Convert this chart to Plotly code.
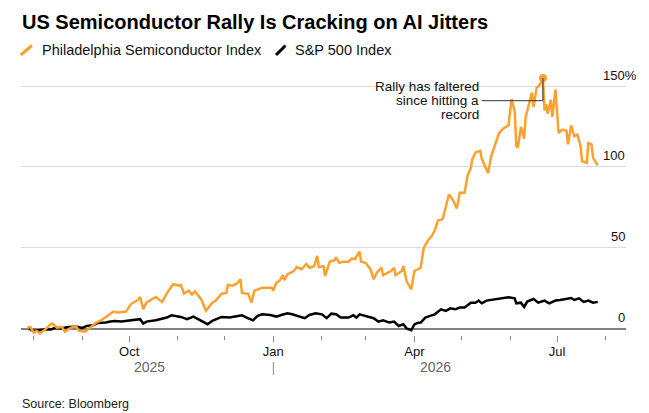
import pandas as pd
import plotly.graph_objects as go

# ---- data (cumulative % change) ----
sox_dates = [
    "2025-07-28", "2025-07-30", "2025-08-01", "2025-08-03", "2025-08-05", "2025-08-08",
    "2025-08-12", "2025-08-13", "2025-08-16", "2025-08-19", "2025-08-21", "2025-08-25",
    "2025-08-28", "2025-08-30", "2025-09-03", "2025-09-06", "2025-09-10", "2025-09-13",
    "2025-09-18", "2025-09-21", "2025-09-24", "2025-09-29", "2025-10-02", "2025-10-05",
    "2025-10-07", "2025-10-08", "2025-10-10", "2025-10-12", "2025-10-15", "2025-10-18",
    "2025-10-22", "2025-10-25", "2025-10-29", "2025-11-02", "2025-11-03", "2025-11-05",
    "2025-11-08", "2025-11-10", "2025-11-12", "2025-11-16", "2025-11-19", "2025-11-23",
    "2025-11-25", "2025-11-29", "2025-12-02", "2025-12-03", "2025-12-06", "2025-12-09",
    "2025-12-11", "2025-12-12", "2025-12-16", "2025-12-18", "2025-12-20", "2025-12-25",
    "2025-12-31", "2026-01-01", "2026-01-03", "2026-01-05", "2026-01-07", "2026-01-08",
    "2026-01-10", "2026-01-14", "2026-01-16", "2026-01-19", "2026-01-22", "2026-01-24",
    "2026-01-27", "2026-01-29", "2026-01-30", "2026-02-02", "2026-02-03", "2026-02-06",
    "2026-02-09", "2026-02-10", "2026-02-12", "2026-02-15", "2026-02-18", "2026-02-20",
    "2026-02-22", "2026-02-25", "2026-02-26", "2026-03-01", "2026-03-04", "2026-03-06",
    "2026-03-08", "2026-03-11", "2026-03-12", "2026-03-17", "2026-03-19", "2026-03-20",
    "2026-03-24", "2026-03-25", "2026-03-27", "2026-03-30", "2026-04-01", "2026-04-05",
    "2026-04-07", "2026-04-10", "2026-04-12", "2026-04-14", "2026-04-16", "2026-04-19",
    "2026-04-23", "2026-04-24", "2026-04-26", "2026-04-28", "2026-04-30", "2026-05-03",
    "2026-05-05", "2026-05-07", "2026-05-08", "2026-05-10", "2026-05-13", "2026-05-14",
    "2026-05-17", "2026-05-18", "2026-05-20", "2026-05-25", "2026-05-28", "2026-05-31",
    "2026-06-02", "2026-06-04", "2026-06-05", "2026-06-06", "2026-06-08", "2026-06-10",
    "2026-06-11", "2026-06-13", "2026-06-15", "2026-06-16", "2026-06-18", "2026-06-20",
    "2026-06-22", "2026-06-23", "2026-06-24", "2026-06-25", "2026-06-27", "2026-06-28",
    "2026-06-30", "2026-07-02", "2026-07-04", "2026-07-07", "2026-07-08", "2026-07-10",
    "2026-07-12", "2026-07-14", "2026-07-16", "2026-07-17", "2026-07-20", "2026-07-21",
    "2026-07-23", "2026-07-24", "2026-07-27",
]
sox_vals = [
    0.6, 1, -2.5, -1.5, -3, -1,
    2.7, 3, 0.6, 1, -2, 0.6,
    1.6, -1.5, -2, 0.6, 3.7, 5,
    8.8, 10.5, 10, 10.5, 15, 16.5,
    18, 19.5, 12, 16, 18, 19.5,
    16.5, 21.6, 27.4, 26.5, 27, 21.6,
    23.5, 21, 23, 18, 11, 16,
    17, 21.6, 22, 27, 26.5, 28,
    30.5, 22, 21.5, 16, 23.5, 25.3,
    25.3, 23.5, 28.4, 29.5, 33, 30,
    33.5, 35.6, 38, 36.7, 40, 37.6,
    38.6, 45, 38, 38.6, 32.5, 41.4,
    42.2, 44, 40.7, 41.4, 41.4, 43.3,
    43, 47.5, 41.4, 40.5, 36.6, 30.5,
    34.5, 37.7, 33, 35.6, 37.6, 33,
    35.6, 38.6, 29.4, 24.3, 35.6, 37.6,
    50, 55, 57.2, 60.7, 66.9, 67.6,
    82.9, 81.8, 78.7, 74.3, 84, 84,
    95, 99.4, 105, 109, 110, 105,
    98.3, 96.3, 106.6, 121, 124, 125.7,
    142, 134, 113, 112, 124.7, 117.5,
    130.9, 139, 146, 137, 149, 151,
    155, 135, 139, 133, 141.5, 131,
    148, 121, 123, 122.5, 114, 125.7,
    119, 120, 113, 103.5, 102.5, 114.8,
    114, 105.6, 101,
]

spx_dates = [
    "2025-07-29", "2025-08-01", "2025-08-05", "2025-08-08", "2025-08-12", "2025-08-15",
    "2025-08-19", "2025-08-22", "2025-08-28", "2025-09-01", "2025-09-04", "2025-09-08",
    "2025-09-11", "2025-09-16", "2025-09-19", "2025-09-22", "2025-09-26", "2025-10-01",
    "2025-10-05", "2025-10-08", "2025-10-10", "2025-10-12", "2025-10-18", "2025-10-22",
    "2025-10-25", "2025-10-28", "2025-11-01", "2025-11-03", "2025-11-07", "2025-11-11",
    "2025-11-14", "2025-11-17", "2025-11-20", "2025-11-23", "2025-11-27", "2025-11-29",
    "2025-12-04", "2025-12-09", "2025-12-12", "2025-12-15", "2025-12-19", "2025-12-22",
    "2025-12-25", "2025-12-30", "2026-01-03", "2026-01-06", "2026-01-10", "2026-01-13",
    "2026-01-16", "2026-01-21", "2026-01-24", "2026-01-28", "2026-02-01", "2026-02-04",
    "2026-02-07", "2026-02-10", "2026-02-13", "2026-02-18", "2026-02-21", "2026-02-23",
    "2026-02-25", "2026-03-01", "2026-03-06", "2026-03-09", "2026-03-12", "2026-03-16",
    "2026-03-19", "2026-03-22", "2026-03-25", "2026-03-27", "2026-03-30", "2026-04-01",
    "2026-04-03", "2026-04-05", "2026-04-08", "2026-04-11", "2026-04-14", "2026-04-18",
    "2026-04-21", "2026-04-24", "2026-04-27", "2026-04-30", "2026-05-03", "2026-05-07",
    "2026-05-10", "2026-05-12", "2026-05-14", "2026-05-17", "2026-05-20", "2026-05-24",
    "2026-05-27", "2026-05-31", "2026-06-04", "2026-06-05", "2026-06-08", "2026-06-10",
    "2026-06-12", "2026-06-16", "2026-06-19", "2026-06-23", "2026-06-26", "2026-06-30",
    "2026-07-03", "2026-07-06", "2026-07-10", "2026-07-12", "2026-07-15", "2026-07-18",
    "2026-07-21", "2026-07-24", "2026-07-27",
]
spx_vals = [
    0, -1.5, -1, -0.6, -0.6, 0.4,
    0, 0.8, 1.2, 0.4, 1.6, 2,
    3.5, 3.7, 4.3, 4.7, 4.3, 5.1,
    5.6, 5.8, 3.1, 4.3, 5.1, 5.8,
    6.8, 8.2, 7.4, 7.2, 5.8, 7.4,
    5.8, 4.3, 2.7, 4.7, 6.4, 7.2,
    6.8, 7.6, 8.2, 6.8, 5.1, 7.8,
    8.8, 8.4, 7.4, 8.4, 9.5, 8.8,
    7.8, 6.4, 8.4, 9.5, 8.8, 6.4,
    9.2, 8.8, 6.8, 6.8, 8.2, 6.8,
    8.8, 7.8, 6.4, 4.3, 5.1, 3.7,
    4.3, 1.6, 2.7, 0, -1, 2.5,
    3.5, 3.7, 6.8, 7.8, 8.8, 11.9,
    10.9, 12.5, 11.9, 13, 13, 16,
    16, 17.3, 15.6, 17.3, 17.7, 18.3,
    18.7, 19.3, 18.7, 15.6, 16, 13.4,
    16.7, 18.3, 16, 17.3, 15.6, 17.3,
    17.7, 18.3, 18.9, 17.7, 18.7, 16.5,
    17.3, 16, 16.5,
]

series_names = ["Philadelphia Semiconductor Index", "S&P 500 Index"]
y_ticks = [0, 50, 100, 150]
callout_lines = ["Rally has faltered", "since hitting a", "record"]

ORANGE = "#FCA130"
FONT = "Liberation Sans, Arial, sans-serif"

# ---- page geometry (pixels) ----
W, H = 649, 413
L, R, T, B = 13, 31, 62, 86
PW, PH = W - L - R, H - T - B


def px(x):
    return (x - L) / PW


def py(y):
    return (H - B - y) / PH


sox = pd.DataFrame({"date": pd.to_datetime(sox_dates), "val": sox_vals})
spx = pd.DataFrame({"date": pd.to_datetime(spx_dates), "val": spx_vals})
peak = sox.loc[sox["val"].idxmax()]

fig = go.Figure()
fig.add_trace(go.Scatter(x=spx["date"], y=spx["val"], mode="lines",
                         line=dict(color="#000000", width=2.5), name=series_names[1]))
fig.add_trace(go.Scatter(x=sox["date"], y=sox["val"], mode="lines",
                         line=dict(color=ORANGE, width=2.5), name=series_names[0]))
fig.add_trace(go.Scatter(x=[peak["date"]], y=[peak["val"]], mode="markers",
                         marker=dict(color=ORANGE, size=8), showlegend=False))

# callout leader line (elbow from text to the record high)
callout_date = "2026-05-14"
callout_y = 141
fig.add_shape(type="path", xref="x", yref="y",
              path=f"M {callout_date} {callout_y} L {peak['date']:%Y-%m-%d} {callout_y} "
                   f"L {peak['date']:%Y-%m-%d} {peak['val']}",
              line=dict(color="#333333", width=1))
for i, txt in enumerate(callout_lines):
    fig.add_annotation(x=callout_date, y=callout_y, xref="x", yref="y", text=txt,
                       showarrow=False, xanchor="right", yanchor="middle",
                       xshift=-1, yshift=14 * (1 - i),
                       font=dict(size=13.5, color="#111111", family=FONT))

# y labels sitting above the gridlines, on the right ("%" hangs past the edge)
for v in y_ticks:
    label = f"{v}%" if v == y_ticks[-1] else str(v)
    fig.add_annotation(x=1, y=v, xref="paper", yref="y", text=label, showarrow=False,
                       xanchor="right", yanchor="middle", yshift=11,
                       xshift=12.5 if v == y_ticks[-1] else 1,
                       font=dict(size=13, color="#111111", family=FONT))

# year row under the month labels
for yr in ["2025", "2026"]:
    d = sox["date"][sox["date"].dt.year == int(yr)]
    mid = d.min() + (d.max() - d.min()) / 2
    fig.add_annotation(x=mid, y=py(359), xref="x", yref="paper", text=yr, showarrow=False,
                       xanchor="center", yanchor="middle",
                       font=dict(size=14, color="#666666", family=FONT))
fig.add_shape(type="line", xref="x", yref="paper", x0="2026-01-01", x1="2026-01-01",
              y0=py(354), y1=py(367), line=dict(color="#888888", width=1))

# legend drawn by hand: slash + label
leg = [(12.7, 24, 31.5, ORANGE, series_names[0]), (268, 277.5, 285, "#000000", series_names[1])]
for x0, x1, tx, col, name in leg:
    fig.add_shape(type="line", xref="paper", yref="paper", x0=px(x0), x1=px(x1),
                  y0=py(47), y1=py(37.5), line=dict(color=col, width=3))
    fig.add_annotation(x=px(tx), y=py(42), xref="paper", yref="paper", text=name,
                       showarrow=False, xanchor="left", yanchor="middle",
                       font=dict(size=14.5, color="#111111", family=FONT))

fig.add_annotation(x=px(12), y=py(14.5), xref="paper", yref="paper",
                   text="<b>US Semiconductor Rally Is Cracking on AI Jitters</b>",
                   showarrow=False, xanchor="left", yanchor="middle",
                   font=dict(size=20, color="#000000", family=FONT))

fig.add_annotation(x=px(12), y=py(396), xref="paper", yref="paper", text="Source: Bloomberg",
                   showarrow=False, xanchor="left", yanchor="middle",
                   font=dict(size=12.5, color="#222222", family=FONT))

fig.update_layout(
    width=W, height=H,
    margin=dict(l=L, r=R, t=T, b=B),
    paper_bgcolor="white", plot_bgcolor="white",
    showlegend=False,
    font=dict(family=FONT),
)
fig.update_xaxes(
    range=["2025-07-24", "2026-08-14"],
    showgrid=False, showline=False, zeroline=False,
    tickformat="%b", dtick="M3", tick0="2025-10-01",
    ticks="outside", ticklen=6, tickwidth=1.2, tickcolor="#888888",
    ticklabelstandoff=-2,
    tickfont=dict(size=13, color="#111111", family=FONT),
    minor=dict(ticks="outside", ticklen=3.5, tickwidth=1.2, tickcolor="#888888",
               dtick="M1", tick0="2025-08-01", showgrid=False),
)
fig.update_yaxes(
    range=[-4, 160],
    tickvals=y_ticks, showticklabels=False,
    showgrid=True, gridcolor="#dcdcdc", gridwidth=1,
    zeroline=True, zerolinecolor="#808080", zerolinewidth=1.5,
    showline=False,
)

fig.write_html("out.html")
